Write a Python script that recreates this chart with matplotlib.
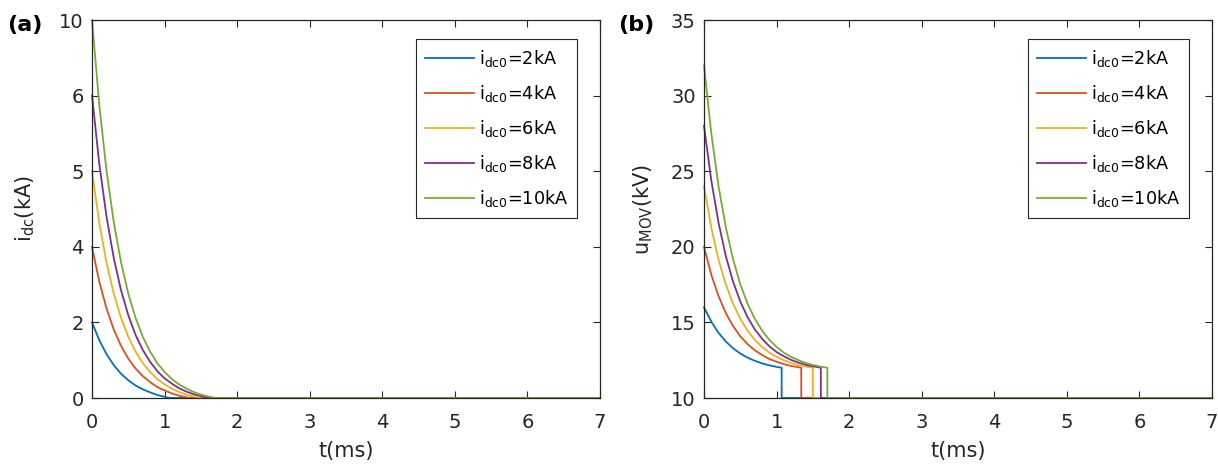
import matplotlib
matplotlib.use("Agg")
import matplotlib.pyplot as plt

plt.rcParams['font.family'] = ['DejaVu Sans']
plt.rcParams['mathtext.fontset'] = 'custom'
plt.rcParams['mathtext.rm'] = 'DejaVu Sans'
plt.rcParams['mathtext.it'] = 'DejaVu Sans'

# MATLAB default line colours
colors = ['#0072BD', '#D95319', '#EDB120', '#7E2F8E', '#77AC30']
labels = [r'$\mathregular{i_{dc0}}$=2kA', r'$\mathregular{i_{dc0}}$=4kA',
          r'$\mathregular{i_{dc0}}$=6kA', r'$\mathregular{i_{dc0}}$=8kA',
          r'$\mathregular{i_{dc0}}$=10kA']

# (a) dc current, kA
t_i_2 = [0, 0.1, 0.2, 0.3, 0.4, 0.5, 0.6, 0.7, 0.8, 0.9, 1.0, 1.07, 7]
i_2 = [2.00, 1.53, 1.16, 0.87, 0.64, 0.47, 0.33, 0.23, 0.15, 0.08, 0.03, 0, 0]
t_i_4 = [0, 0.1, 0.2, 0.3, 0.4, 0.5, 0.6, 0.7, 0.8, 0.9, 1.0, 1.1, 1.2, 1.3, 1.34, 7]
i_4 = [4.00, 3.08, 2.37, 1.81, 1.38, 1.04, 0.78, 0.58, 0.42, 0.29, 0.20, 0.12, 0.06, 0.02, 0, 0]
t_i_6 = [0, 0.1, 0.2, 0.3, 0.4, 0.5, 0.6, 0.7, 0.8, 0.9, 1.0, 1.1, 1.2, 1.3, 1.4, 1.5, 7]
i_6 = [6.00, 4.64, 3.58, 2.76, 2.12, 1.62, 1.23, 0.92, 0.69, 0.50, 0.36, 0.25, 0.16, 0.09, 0.04, 0, 0]
t_i_8 = [0, 0.1, 0.2, 0.3, 0.4, 0.5, 0.6, 0.7, 0.8, 0.9, 1.0, 1.1, 1.2, 1.3, 1.4, 1.5, 1.61, 7]
i_8 = [8.00, 6.20, 4.80, 3.70, 2.85, 2.19, 1.67, 1.27, 0.96, 0.71, 0.52, 0.38, 0.26, 0.17, 0.10, 0.05, 0, 0]
t_i_10 = [0, 0.1, 0.2, 0.3, 0.4, 0.5, 0.6, 0.7, 0.8, 0.9, 1.0, 1.1, 1.2, 1.3, 1.4, 1.5, 1.6, 1.7, 7]
i_10 = [10.00, 7.76, 6.01, 4.65, 3.59, 2.76, 2.12, 1.62, 1.23, 0.92, 0.69, 0.50, 0.36, 0.25, 0.16, 0.09, 0.04, 0, 0]

# (b) MOV voltage, kV
t_u_2 = [0, 0.1, 0.2, 0.3, 0.4, 0.5, 0.6, 0.7, 0.8, 0.9, 1.0, 1.07, 1.07, 7]
u_2 = [16.0, 15.05, 14.31, 13.74, 13.29, 12.94, 12.67, 12.46, 12.29, 12.16, 12.06, 12.0, 10, 10]
t_u_4 = [0, 0.1, 0.2, 0.3, 0.4, 0.5, 0.6, 0.7, 0.8, 0.9, 1.0, 1.1, 1.2, 1.3, 1.34, 1.34, 7]
u_4 = [20.0, 18.16, 16.74, 15.62, 14.76, 14.08, 13.56, 13.16, 12.84, 12.58, 12.40, 12.24, 12.12, 12.04, 12.0, 10, 10]
t_u_6 = [0, 0.1, 0.2, 0.3, 0.4, 0.5, 0.6, 0.7, 0.8, 0.9, 1.0, 1.1, 1.2, 1.3, 1.4, 1.5, 1.5, 7]
u_6 = [24.0, 21.28, 19.16, 17.52, 16.24, 15.24, 14.46, 13.84, 13.38, 13.00, 12.72, 12.50, 12.32, 12.18, 12.08, 12.0, 10, 10]
t_u_8 = [0, 0.1, 0.2, 0.3, 0.4, 0.5, 0.6, 0.7, 0.8, 0.9, 1.0, 1.1, 1.2, 1.3, 1.4, 1.5, 1.61, 1.61, 7]
u_8 = [28.0, 24.40, 21.60, 19.40, 17.70, 16.38, 15.34, 14.54, 13.92, 13.42, 13.04, 12.76, 12.52, 12.34, 12.20, 12.10, 12.0, 10, 10]
t_u_10 = [0, 0.1, 0.2, 0.3, 0.4, 0.5, 0.6, 0.7, 0.8, 0.9, 1.0, 1.1, 1.2, 1.3, 1.4, 1.5, 1.6, 1.7, 1.7, 7]
u_10 = [32.0, 27.52, 24.02, 21.30, 19.18, 17.52, 16.24, 15.24, 14.46, 13.84, 13.38, 13.00, 12.72, 12.50, 12.32, 12.18, 12.08, 12.0, 10, 10]

# y ticks of (a) as printed in the original figure
a_yticks = [0, 2, 4, 6, 8, 10]
a_yticklabels = ['0', '2', '4', '5', '6', '10']
b_yticks = [10, 15, 20, 25, 30, 35]
x_ticks = [0, 1, 2, 3, 4, 5, 6, 7]

i_series = [(t_i_2, i_2), (t_i_4, i_4), (t_i_6, i_6), (t_i_8, i_8), (t_i_10, i_10)]
u_series = [(t_u_2, u_2), (t_u_4, u_4), (t_u_6, u_6), (t_u_8, u_8), (t_u_10, u_10)]

W, H = 1218, 469
fig = plt.figure(figsize=(W / 100, H / 100), dpi=100)
ax1 = fig.add_axes([92 / W, 71 / H, 508 / W, 378 / H])
ax2 = fig.add_axes([704 / W, 71 / H, 508 / W, 378 / H])

axc = '#262626'
for ax, series in [(ax1, i_series), (ax2, u_series)]:
    for (t, y), c, lab in zip(series, colors, labels):
        ax.plot(t, y, color=c, lw=1.3, label=lab, clip_on=False)
    ax.set_xlim(0, 7)
    ax.set_xticks(x_ticks)
    ax.set_xlabel('t(ms)', fontsize=15, color=axc)
    ax.xaxis.set_label_coords(0.5, -0.115)
    ax.tick_params(direction='in', top=True, right=True, length=5, width=0.8,
                   labelsize=14, colors=axc)
    ax.tick_params(axis='x', pad=11)
    ax.tick_params(axis='y', pad=6)
    for s in ax.spines.values():
        s.set_color(axc)
        s.set_linewidth(0.9)
    leg = ax.legend(loc='upper right', bbox_to_anchor=(1 - 23 / 508, 1 - 19 / 378),
                    borderaxespad=0, fancybox=False, framealpha=1, edgecolor=axc,
                    fontsize=12.7, handlelength=2.75, labelspacing=0.8,
                    handletextpad=0.3, borderpad=0.5)
    leg.get_frame().set_linewidth(0.8)

ax1.set_ylim(0, 10)
ax1.set_yticks(a_yticks)
ax1.set_yticklabels(a_yticklabels)
ax1.set_ylabel(r'$\mathregular{i_{dc}}$(kA)', fontsize=15, color=axc)
ax1.yaxis.set_label_coords((37 - 92) / 508, 0.5)

ax2.set_ylim(10, 35)
ax2.set_yticks(b_yticks)
ax2.set_ylabel(r'$\mathregular{u_{MOV}}$(kV)', fontsize=15, color=axc)
ax2.yaxis.set_label_coords((655 - 704) / 508, 0.5)

fig.text(25 / W, 1 - 25 / H, '(a)', fontsize=16, fontweight='bold',
         ha='center', va='center', color='black')
fig.text(636 / W, 1 - 25 / H, '(b)', fontsize=16, fontweight='bold',
         ha='center', va='center', color='black')

fig.savefig('out.png', dpi=100)
